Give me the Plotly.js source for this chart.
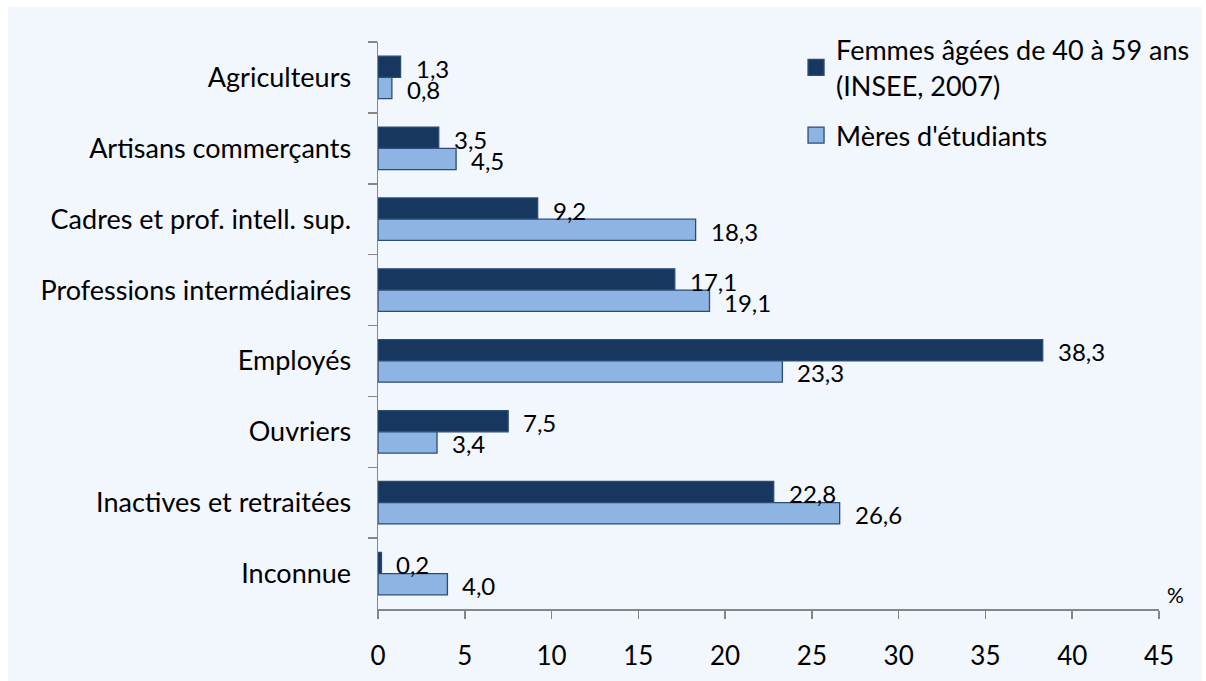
<!DOCTYPE html>
<html>
<head>
<meta charset="utf-8">
<script src="https://cdn.plot.ly/plotly-3.0.1.min.js"></script>
<style>
  body { margin: 0; background: #ffffff; }
  #chart { position: absolute; left: 8px; top: 7px; width: 1194px; height: 674px; }
</style>
</head>
<body>
<div id="chart"></div>
<script>
const categories = [
    'Agriculteurs',
    'Artisans commerçants',
    'Cadres et prof. intell. sup.',
    'Professions intermédiaires',
    'Employés',
    'Ouvriers',
    'Inactives et retraitées',
    'Inconnue'
]
const femmes = [1.3, 3.5, 9.2, 17.1, 38.3, 7.5, 22.8, 0.2]
const meres = [0.8, 4.5, 18.3, 19.1, 23.3, 3.4, 26.6, 4.0]
const series_names = ['Femmes âgées de 40 à 59 ans<br>(INSEE, 2007)', "Mères d'étudiants"]
const x_ticks = [0, 5, 10, 15, 20, 25, 30, 35, 40, 45]

const FONT = 'Lato, "Open Sans", sans-serif'
const DARK = '#17375E'
const LIGHT = '#8EB4E3'
const EDGE = '#2A4C77'
const fr = v => v.toFixed(1).replace('.', ',')

const bar = (values, fill) => ({
    type: 'bar',
    orientation: 'h',
    y: categories,
    x: values,
    showlegend: false,
    marker: { color: fill, line: { color: EDGE, width: 1.3 } },
    hoverinfo: 'x+y'
})

// legend only entries, so the squares are as big as in the original
const key = (name, fill, group) => ({
    type: 'scatter',
    mode: 'markers',
    name: name,
    legendgroup: group,
    x: [null],
    y: [null],
    marker: { symbol: 'square', size: 16, color: fill, line: { color: EDGE, width: 1.3 } }
})

const traces = [
    bar(femmes, DARK),
    bar(meres, LIGHT),
    key(series_names[0], DARK, 'a'),
    key(series_names[1], LIGHT, 'b')
]

// data labels, a little off the end of each bar like in excel
const labels = []
categories.forEach((c, i) => {
    labels.push({ x: femmes[i], y: c, text: fr(femmes[i]), xanchor: 'left', yanchor: 'middle',
        xshift: 13, yshift: 9, showarrow: false, font: { family: FONT, size: 24, color: '#000' } })
    labels.push({ x: meres[i], y: c, text: fr(meres[i]), xanchor: 'left', yanchor: 'middle',
        xshift: 13, yshift: -12, showarrow: false, font: { family: FONT, size: 24, color: '#000' } })
})
labels.push({ xref: 'paper', yref: 'paper', x: 1.008, y: 0, xanchor: 'left', yanchor: 'bottom',
    text: '%', showarrow: false, font: { family: FONT, size: 21, color: '#000' } })

const layout = {
    width: 1194,
    height: 674,
    paper_bgcolor: '#F2F6FD',
    plot_bgcolor: '#F2F6FD',
    margin: { l: 370, r: 43, t: 35, b: 72, autoexpand: false },
    font: { family: FONT, size: 26, color: '#000' },
    barmode: 'group',
    bargap: 0.4,
    bargroupgap: 0,
    showlegend: true,
    legend: {
        xref: 'container', yref: 'container',
        x: 0.66, y: 0.972, xanchor: 'left', yanchor: 'top',
        bgcolor: 'rgba(0,0,0,0)',
        font: { family: FONT, size: 27, color: '#000' },
        itemwidth: 30,
        tracegroupgap: 12
    },
    xaxis: {
        range: [0, 45],
        tickvals: x_ticks,
        ticktext: x_ticks.map(String),
        showgrid: false,
        zeroline: false,
        showline: true,
        linecolor: '#868686',
        linewidth: 1.5,
        ticks: 'outside',
        ticklen: 8,
        tickcolor: '#868686',
        tickwidth: 1.5,
        ticklabelstandoff: 15,
        tickfont: { family: FONT, size: 26 }
    },
    yaxis: {
        autorange: 'reversed',
        showgrid: false,
        showline: true,
        linecolor: '#868686',
        linewidth: 1.5,
        ticks: 'outside',
        tickson: 'boundaries',
        ticklen: 9,
        tickcolor: '#868686',
        tickwidth: 1.5,
        ticklabelstandoff: 20,
        tickfont: { family: FONT, size: 27 }
    },
    annotations: labels
}

Plotly.newPlot('chart', traces, layout, { displayModeBar: false, staticPlot: true })
</script>
</body>
</html>
